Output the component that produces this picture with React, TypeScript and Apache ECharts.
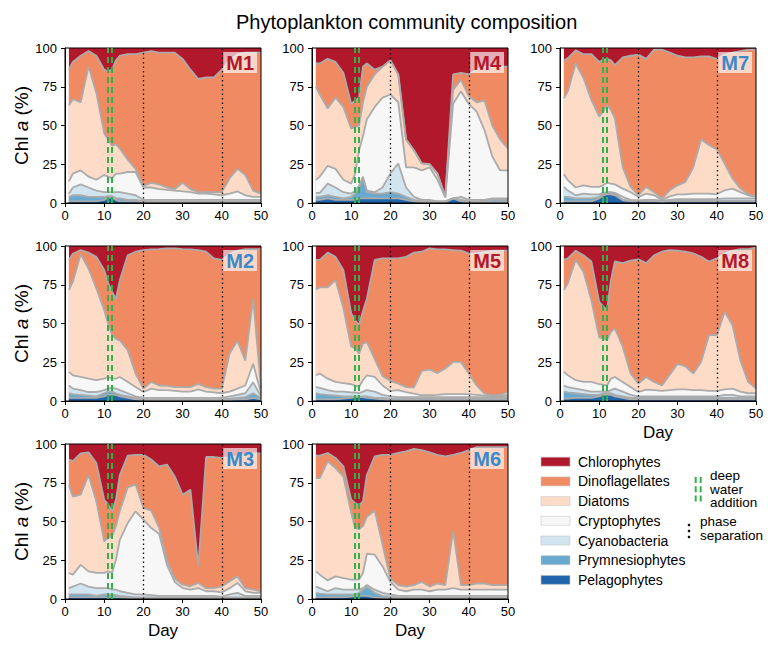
import React, { useEffect, useRef } from "react";
import * as echarts from "echarts";

// Sampling days (shared by every mesocosm)
const days = [1, 2, 4, 6, 8, 10, 11, 12, 13, 14, 16, 18, 20, 22, 24, 26, 28, 30, 32, 34, 36, 38, 40, 42, 44, 46, 48, 50];

// Cumulative upper edge (% of Chl a) of each group.
// Chlorophytes sit on top of the stack, so their upper edge is 100.
const chloroTop = [100, 100, 100, 100, 100, 100, 100, 100, 100, 100, 100, 100, 100, 100, 100, 100, 100, 100, 100, 100, 100, 100, 100, 100, 100, 100, 100, 100];

const m1Dino = [86, 91, 95, 98, 95, 86, 85, 86, 92, 95, 96, 96, 97, 98, 97, 97, 97, 93, 86, 80, 81, 81, 86, 92, 96, 97, 97, 97];
const m1Diat = [63, 67, 65, 88, 71, 45, 41, 37, 38, 35, 28, 22, 11, 13, 12, 10, 9, 13, 9, 7, 7, 7, 7, 16, 22, 18, 8, 6];
const m1Cryp = [14, 19, 21, 17, 15, 18, 17, 16, 19, 19, 20, 20, 10, 10, 9, 8.5, 8, 7.5, 7, 6, 6, 5.5, 5, 6, 7.5, 5, 4, 4];
const m1Cyan = [6, 10, 12, 10, 8, 7, 7, 7, 7, 7, 6, 5, 2, 2, 2, 2, 2, 2, 2, 2, 2, 2, 2, 2, 2, 2, 2, 2];
const m1Prym = [4, 5, 5, 4, 4, 4, 4.5, 4.5, 3, 3, 2, 2, 1, 1, 1, 1, 1, 1, 1, 1, 1, 1, 1, 1, 1, 1, 1, 1];
const m1Pela = [1, 1, 1, 1, 1, 2, 3.5, 3.5, 2, 1, 1, 1, 0.5, 0.5, 0.5, 0.5, 0.5, 0.5, 0.5, 0.5, 0.5, 0.5, 0.5, 0.5, 0.5, 0.5, 0.5, 0.5];

const m4Dino = [90, 90, 93, 91, 84, 64, 66, 68, 88, 90, 86, 88, 92, 83, 41, 34, 25.5, 25, 19, 4, 83, 84, 83, 86, 88, 88, 88, 88];
const m4Diat = [75, 70, 61, 68, 62, 48, 49, 50, 65, 75, 83, 88, 92, 83, 41, 34, 25.5, 25, 19, 4, 73, 79.5, 69, 65, 66, 50, 41, 35];
const m4Cryp = [15, 17, 24, 22, 15, 12.5, 19, 34, 43, 54, 62, 68, 70, 65, 23, 23, 21, 23, 15, 3.5, 64, 72, 64, 59, 47, 30, 21, 21];
const m4Cyan = [6.5, 6.5, 12.5, 10, 7, 6, 8, 11, 17, 8, 7, 10, 19, 25.5, 10, 4, 2, 2, 1, 1, 3, 4, 2, 2, 2, 3, 3, 3];
const m4Prym = [4, 4, 5, 4, 3, 4, 6, 10, 16, 7, 6, 6, 7, 6, 4, 2, 1, 1, 1, 1, 3, 2, 1, 1, 1.5, 2, 2, 2];
const m4Pela = [2, 2, 3, 2, 2, 2, 2, 3, 3, 3, 3, 3, 3, 3, 2, 1, 0.5, 0.5, 0.5, 0.5, 3, 1, 0.5, 0.5, 0.5, 0.5, 0.5, 0.5];

const m7Dino = [92, 93.5, 98.5, 96, 96, 91, 92.4, 93, 92, 89, 94, 95, 95.7, 93, 99, 99, 97, 95, 94, 94, 94.6, 94.6, 93, 95.7, 97, 98, 99, 99];
const m7Diat = [67.6, 72, 90, 80.6, 66.5, 55.7, 59, 63.3, 60, 54.6, 23, 10.4, 5, 10.4, 7, 2.8, 8.2, 11.4, 13.6, 23, 41, 37.4, 34.6, 25.5, 15.8, 9.3, 5.6, 4.3];
const m7Cryp = [18.6, 14.7, 10, 11.4, 10.4, 10.4, 11.4, 13, 12.5, 12, 9.3, 7, 4, 6, 5, 2, 4.3, 5.6, 5.6, 6, 6, 6, 5.6, 8.2, 9.3, 7, 5, 4];
const m7Cyan = [10.4, 8, 5, 6, 5.6, 5.6, 6.5, 7, 7, 6.5, 4, 2, 1.7, 2, 2, 1.5, 2, 2.5, 2.5, 2.5, 2.5, 2.5, 2.5, 3, 3, 3, 3, 3];
const m7Prym = [4, 4, 3, 3, 3, 4, 6, 6.5, 6.5, 6, 2, 1.5, 1.5, 1.5, 1.5, 1, 1.5, 1.5, 1.5, 1.5, 1.5, 1.5, 1.5, 1.5, 1.5, 1.5, 1.5, 1.5];
const m7Pela = [1, 1, 1, 1, 1, 3, 5, 5.6, 5.6, 5, 1.7, 1, 1, 1, 1, 0.5, 1, 1, 1, 1, 1, 1, 1, 1, 1, 1, 1, 1];

const m2Dino = [91, 95, 97.4, 95.7, 93, 84.5, 76, 70.5, 66, 78, 94, 96.3, 97.4, 97.8, 98, 98.5, 98.5, 98, 97.8, 97.4, 96.3, 92, 91, 95, 97, 98, 98, 98];
const m2Diat = [71.5, 77, 94.6, 85.5, 72.6, 58.6, 50, 42.5, 40, 39, 32.8, 17.7, 8, 12.3, 10, 9.7, 9, 9, 9, 11, 9, 8, 8, 30.6, 38.8, 26, 66, 8];
const m2Cryp = [18.8, 16.6, 15.5, 14.4, 13.4, 14.4, 15.5, 14.4, 14.4, 15.5, 12.3, 9, 5.8, 8, 7, 7, 6.5, 6, 6, 7.5, 6, 5.5, 5, 6, 8, 10, 24, 5];
const m2Cyan = [10, 8, 7, 5.8, 5.8, 7, 8, 8.5, 8, 7, 5, 3, 2, 2, 2, 2, 2, 2, 2, 2, 2, 2, 2, 3, 4, 5, 12, 3];
const m2Prym = [5, 4.5, 4, 3.5, 3, 5, 6, 6, 5, 4, 3, 2, 1, 1, 1, 1, 1, 1, 1, 1, 1, 1, 1, 1.5, 2, 2.5, 5, 2];
const m2Pela = [2, 2, 2, 2, 2, 3, 4, 4, 4, 3, 2, 1, 0.5, 0.5, 0.5, 0.5, 0.5, 0.5, 0.5, 0.5, 0.5, 0.5, 0.5, 0.5, 1, 1, 2, 1];

const m5Dino = [91, 91, 95.7, 93, 84.5, 56.5, 52, 49, 58, 66, 91, 92, 92, 92, 93, 95.7, 96.3, 98.5, 97.8, 97.8, 97.4, 97, 95.3, 95, 96, 97, 97, 97];
const m5Diat = [72, 73.3, 73.3, 78, 60, 35, 34, 30.6, 37, 38, 27, 16, 13, 11.2, 9, 8.6, 19.4, 20.3, 18, 21, 25.2, 25.2, 17.7, 10, 4.7, 3.7, 4, 5.8];
const m5Cryp = [16.6, 17.7, 14.4, 12.3, 11.6, 10.8, 10, 9, 13.4, 16.6, 15.5, 10, 6.5, 7, 5.8, 4.7, 3.7, 3.7, 4, 4.5, 4.5, 4.5, 4.5, 4, 3.5, 3, 3, 4];
const m5Cyan = [9, 8.5, 7, 6, 6, 5.5, 5.5, 5, 6, 7, 6, 4, 3, 2.5, 2.5, 2.5, 2.5, 2.5, 2.5, 2.5, 2.5, 2.5, 2.5, 2.5, 2.5, 2.5, 2.5, 2.5];
const m5Prym = [5, 4.5, 4, 3.5, 3, 3, 3, 3, 3, 3, 2, 2, 1.5, 1.5, 1.5, 1.5, 1.5, 1.5, 1.5, 1.5, 1.5, 1.5, 1.5, 1.5, 1.5, 1.5, 1.5, 1.5];
const m5Pela = [1, 1, 1, 1, 1.5, 2, 2.5, 2.5, 2.5, 2, 1.5, 1, 0.5, 0.5, 0.5, 0.5, 0.5, 0.5, 0.5, 0.5, 0.5, 0.5, 0.5, 0.5, 0.5, 0.5, 0.5, 0.5];

const m8Dino = [91, 92, 97, 94, 90, 64, 61, 58.6, 78, 90, 89, 90.5, 91.4, 89, 94, 96.3, 97.4, 97, 96.3, 95.3, 93, 90, 92, 95, 97, 98, 98, 99];
const m8Diat = [71.5, 76, 91, 83.4, 65, 41, 40.3, 39.2, 44.6, 46.8, 35, 17.7, 11.2, 15.5, 12.3, 10, 17, 24, 22.4, 17.7, 25.2, 42.5, 42.5, 57.5, 49, 26.3, 12.3, 8];
const m8Cryp = [18.8, 16.6, 13.4, 12.3, 12.3, 10.8, 10.5, 10, 14.4, 15.5, 12.3, 9, 5.8, 7.3, 7, 6.5, 7, 7.5, 7.5, 7, 7, 6.5, 6.5, 7.5, 8, 6, 5, 5];
const m8Cyan = [10, 9, 8, 7, 6, 6, 6, 6, 7, 8, 6, 4, 3, 3, 3, 3, 3, 3, 3, 3, 3, 3, 3, 4, 4, 3, 3, 3];
const m8Prym = [6, 5.5, 5, 4.5, 4, 4, 5, 5, 5, 4, 3, 2, 2, 2, 2, 2, 2, 2, 2, 2, 2, 2, 2, 2, 2, 2, 2, 2];
const m8Pela = [1.5, 1.5, 2, 2, 2, 3, 4, 4, 4, 3, 2, 1, 1, 1, 1, 1, 1, 1, 1, 1, 1, 1, 1, 1, 1, 1, 1, 1];

const m3Dino = [90, 89, 94, 94.6, 87.7, 64, 61, 56.6, 64, 80, 92.5, 93, 93, 90, 85.6, 86.7, 79, 67.3, 70.5, 21, 91.6, 91.6, 91, 91.6, 92, 93, 94, 94];
const m3Diat = [73.8, 66, 67.3, 80, 63, 37.2, 39.4, 40.4, 47, 57, 72, 74, 58.7, 57, 46, 25, 13, 9.2, 8.2, 10.3, 7, 7, 8, 11.4, 14.5, 7, 6, 5];
const m3Cryp = [16.8, 15.7, 22, 17.8, 16.8, 16.8, 17.8, 16.8, 25.4, 38.3, 49, 56.6, 51.2, 45.8, 42, 22, 11, 7, 6, 7, 5, 5, 4.3, 7, 10.4, 5, 4, 4];
const m3Cyan = [7, 8, 10, 8, 7, 7, 7, 6, 6, 5, 4, 3, 3, 2.5, 2, 2, 2, 2, 2, 2, 2, 2, 1.5, 3, 4, 2, 2, 2];
const m3Prym = [3, 3, 3, 3, 2, 3, 3, 3, 2.5, 2, 1.5, 1, 1, 1, 1, 1, 1, 1, 1, 1, 1, 1, 1, 1, 1, 1, 1, 1];
const m3Pela = [1, 1, 1, 1, 1, 1, 1, 1, 1, 1, 0.5, 0.5, 0.5, 0.5, 0.5, 0.5, 0.5, 0.5, 0.5, 0.5, 0.5, 0.5, 0.5, 0.5, 0.5, 0.5, 0.5, 0.5];

const m6Dino = [92.5, 92.5, 94.2, 91, 85.6, 64, 62, 60.2, 63, 80, 92, 93, 93, 94.2, 95.3, 96.8, 96, 94.6, 93, 92, 93, 94.2, 96, 98, 98, 98, 98, 98];
const m6Diat = [78, 78, 88.8, 84.5, 79, 55.5, 46, 45, 47, 53, 57, 35, 13, 9, 8, 9, 11, 8, 10, 9, 44, 9, 9, 10, 10, 9, 9, 9];
const m6Cryp = [17.8, 15.7, 12, 14.6, 13.5, 12.5, 12.5, 12.5, 16.8, 29.2, 28.6, 21, 11, 6, 5, 6, 6, 5, 6, 6, 7, 6, 6, 6, 6, 6, 6, 6];
const m6Cyan = [8, 7, 5, 7, 6, 6, 6, 6, 7, 9, 6, 4, 3, 2, 2, 2, 2, 2, 2, 2, 2, 2, 2, 2, 2, 2, 2, 2];
const m6Prym = [4, 3.5, 3, 3, 3, 3, 3, 4, 6, 8, 4, 2, 1.5, 1, 1, 1, 1, 1, 1, 1, 1, 1, 1, 1, 1, 1, 1, 1];
const m6Pela = [1, 1, 1, 1, 1, 1.5, 2, 2, 2, 2, 1, 0.5, 0.5, 0.5, 0.5, 0.5, 0.5, 0.5, 0.5, 0.5, 0.5, 0.5, 0.5, 0.5, 0.5, 0.5, 0.5, 0.5];

// Event days
const additionDays = [11, 12];
const phaseDays = [20, 40];

// Groups (top of stack first) and colours
const taxa = ["Chlorophytes", "Dinoflagellates", "Diatoms", "Cryptophytes", "Cyanobacteria", "Prymnesiophytes", "Pelagophytes"];
const taxaColors = ["#b2182b", "#ef8a62", "#fddbc7", "#f7f7f7", "#d1e5f0", "#67a9cf", "#2166ac"];

const RED = "#b2182b";
const BLUE = "#3a89c9";
const GREEN = "#34b04a";
const FONT = "'Liberation Sans', Arial, Helvetica, sans-serif";

const panels = [
  { name: "M1", col: 0, row: 0, color: RED, edges: [chloroTop, m1Dino, m1Diat, m1Cryp, m1Cyan, m1Prym, m1Pela], day: false },
  { name: "M4", col: 1, row: 0, color: RED, edges: [chloroTop, m4Dino, m4Diat, m4Cryp, m4Cyan, m4Prym, m4Pela], day: false },
  { name: "M7", col: 2, row: 0, color: BLUE, edges: [chloroTop, m7Dino, m7Diat, m7Cryp, m7Cyan, m7Prym, m7Pela], day: false },
  { name: "M2", col: 0, row: 1, color: BLUE, edges: [chloroTop, m2Dino, m2Diat, m2Cryp, m2Cyan, m2Prym, m2Pela], day: false },
  { name: "M5", col: 1, row: 1, color: RED, edges: [chloroTop, m5Dino, m5Diat, m5Cryp, m5Cyan, m5Prym, m5Pela], day: false },
  { name: "M8", col: 2, row: 1, color: RED, edges: [chloroTop, m8Dino, m8Diat, m8Cryp, m8Cyan, m8Prym, m8Pela], day: true },
  { name: "M3", col: 0, row: 2, color: BLUE, edges: [chloroTop, m3Dino, m3Diat, m3Cryp, m3Cyan, m3Prym, m3Pela], day: true },
  { name: "M6", col: 1, row: 2, color: BLUE, edges: [chloroTop, m6Dino, m6Diat, m6Cryp, m6Cyan, m6Prym, m6Pela], day: true },
];

const colLeft = [65, 312, 560];
const rowTop = [48, 246, 444];
const GW = 196;
const GH = 155;

function buildOption() {
  const grid = panels.map((p) => ({
    left: colLeft[p.col],
    top: rowTop[p.row],
    width: GW,
    height: GH,
    show: true,
    borderColor: "#000",
    borderWidth: 1,
    backgroundColor: "transparent",
    z: 5,
  }));

  const xAxis = panels.map((p, i) => ({
    type: "value",
    gridIndex: i,
    min: 0,
    max: 50,
    interval: 10,
    z: 5,
    axisLine: { show: true, onZero: false, lineStyle: { color: "#000", width: 1 } },
    axisTick: { show: true, length: 4, lineStyle: { color: "#000" } },
    axisLabel: { color: "#000", fontSize: 13, margin: 6, fontFamily: FONT },
    splitLine: { show: false },
    name: p.day ? "Day" : "",
    nameLocation: "middle",
    nameGap: 23,
    nameTextStyle: { fontSize: 17, color: "#000", fontFamily: FONT },
  }));

  const yAxis = panels.map((p, i) => ({
    type: "value",
    gridIndex: i,
    min: 0,
    max: 100,
    interval: 25,
    z: 5,
    axisLine: { show: true, onZero: false, lineStyle: { color: "#000", width: 1 } },
    axisTick: { show: true, length: 4, lineStyle: { color: "#000" } },
    axisLabel: { color: "#000", fontSize: 13, margin: 8, fontFamily: FONT },
    splitLine: { show: false },
    name: p.col === 0 ? "Chl {i|a} (%)" : "",
    nameLocation: "middle",
    nameGap: 32,
    nameTextStyle: {
      fontSize: 19,
      color: "#000",
      fontFamily: FONT,
      rich: { i: { fontSize: 19, fontStyle: "italic", color: "#000", fontFamily: FONT } },
    },
  }));

  const series: any[] = [];
  panels.forEach((p, i) => {
    p.edges.forEach((arr, k) => {
      const s: any = {
        type: "line",
        name: taxa[k],
        xAxisIndex: i,
        yAxisIndex: i,
        data: days.map((d, j) => [d, arr[j]]),
        symbol: "none",
        showSymbol: false,
        silent: true,
        z: 2,
        lineStyle: { color: "#ababab", width: k === 0 ? 0 : 1.8 },
        areaStyle: { color: taxaColors[k], opacity: 1 },
      };
      if (k === p.edges.length - 1) {
        s.markLine = {
          silent: true,
          symbol: ["none", "none"],
          label: { show: false },
          data: [
            ...additionDays.map((d) => ({ xAxis: d, lineStyle: { color: GREEN, type: [6, 4], width: 2 } })),
            ...phaseDays.map((d) => ({ xAxis: d, lineStyle: { color: "#111", type: [1.5, 3], width: 1.3 } })),
          ],
        };
      }
      series.push(s);
    });
  });

  const title: any[] = [
    {
      text: "Phytoplankton community composition",
      left: 231,
      top: 7,
      textStyle: { fontSize: 20, fontWeight: "normal", color: "#000", fontFamily: FONT },
    },
    ...panels.map((p) => ({
      text: p.name,
      right: 768 - (colLeft[p.col] + GW - 4),
      top: rowTop[p.row] + 4,
      backgroundColor: "rgba(255,255,255,0.65)",
      padding: [1, 3, 0, 3],
      z: 8,
      textStyle: { fontSize: 20, fontWeight: "bold", color: p.color, fontFamily: FONT },
    })),
  ];

  const legendEls: any[] = [];
  taxa.forEach((t, i) => {
    const cy = 461.7 + i * 19.7;
    legendEls.push({
      type: "rect",
      shape: { x: 541, y: cy - 4.5, width: 29, height: 9 },
      style: { fill: taxaColors[i], stroke: "#c8c8c8", lineWidth: 0.6 },
    });
    legendEls.push({
      type: "text",
      style: { x: 578, y: cy, text: t, fontSize: 14, fontFamily: FONT, fill: "#000", verticalAlign: "middle", textAlign: "left" },
    });
  });
  [695.7, 700.7].forEach((x) => {
    legendEls.push({
      type: "line",
      shape: { x1: x, y1: 477, x2: x, y2: 503 },
      style: { stroke: GREEN, lineWidth: 2, lineDash: [6, 3.3] },
    });
  });
  legendEls.push({
    type: "text",
    style: { x: 710, y: 489, text: "deep\nwater\naddition", fontSize: 13.5, lineHeight: 13.5, fontFamily: FONT, fill: "#000", verticalAlign: "middle", textAlign: "left" },
  });
  [525, 531, 537].forEach((y) => {
    legendEls.push({ type: "circle", shape: { cx: 689, cy: y, r: 1.3 }, style: { fill: "#111" } });
  });
  legendEls.push({
    type: "text",
    style: { x: 700, y: 528.6, text: "phase\nseparation", fontSize: 13.5, lineHeight: 13.5, fontFamily: FONT, fill: "#000", verticalAlign: "middle", textAlign: "left" },
  });

  return {
    animation: false,
    backgroundColor: "#fff",
    textStyle: { fontFamily: FONT },
    title,
    grid,
    xAxis,
    yAxis,
    series,
    graphic: legendEls,
  };
}

export default function App() {
  const ref = useRef<HTMLDivElement>(null);
  useEffect(() => {
    if (!ref.current) return;
    const chart = echarts.init(ref.current, null, { renderer: "svg" });
    chart.setOption(buildOption() as any);
    return () => chart.dispose();
  }, []);
  return (
    <div
      ref={ref}
      style={{ position: "absolute", left: 0, top: 0, width: 768, height: 646, background: "#fff" }}
    />
  );
}
